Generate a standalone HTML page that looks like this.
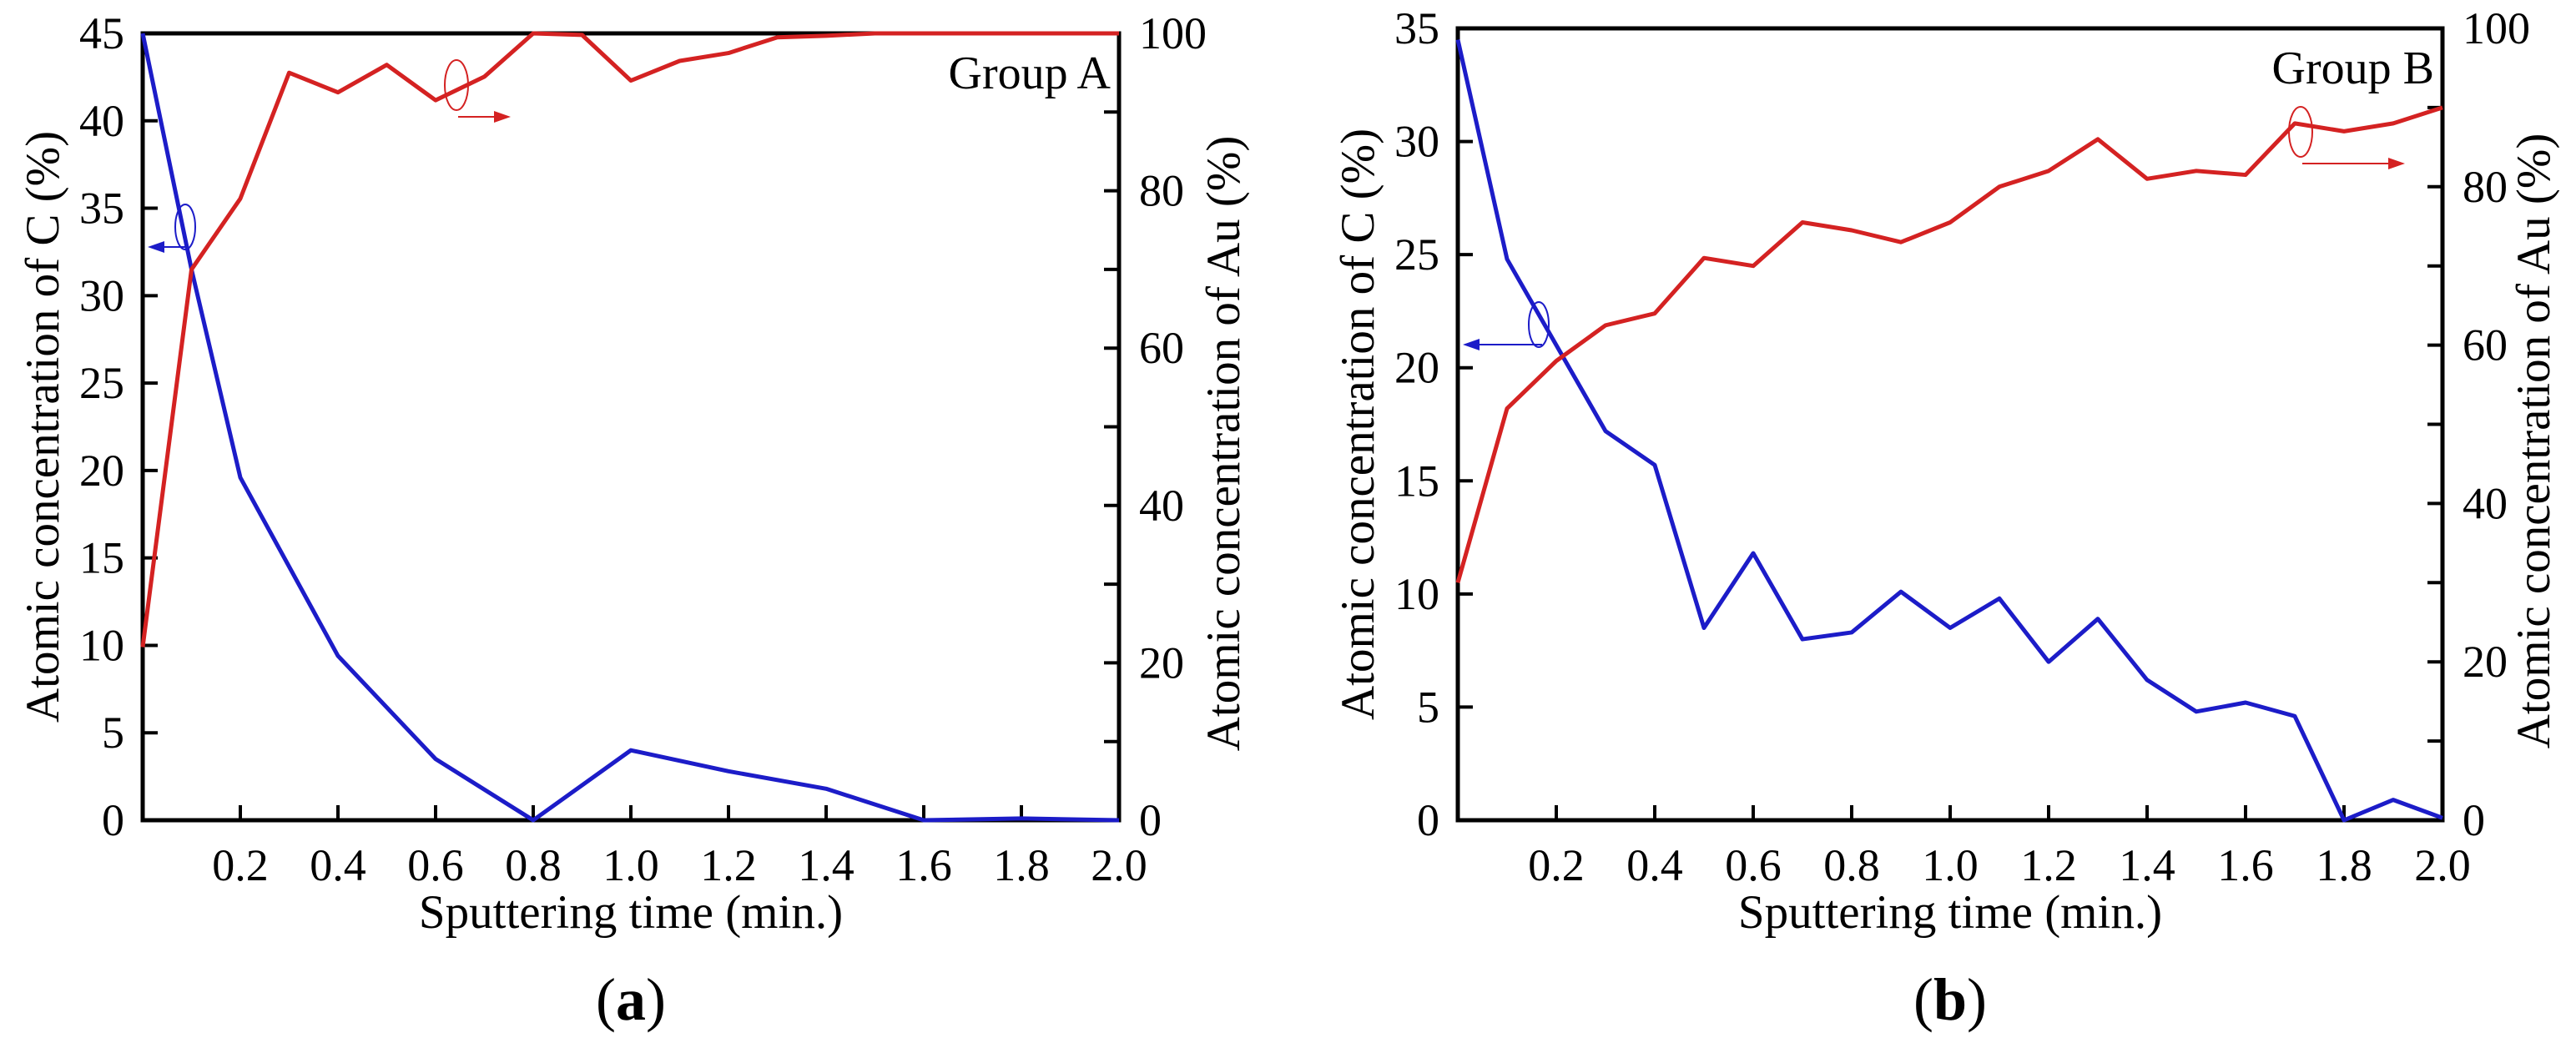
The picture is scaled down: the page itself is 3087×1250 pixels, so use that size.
<!DOCTYPE html>
<html><head><meta charset="utf-8"><style>
body{margin:0;background:#fff;}
svg{display:block;font-family:"Liberation Serif",serif;}
</style></head><body>
<svg id="fig" width="3087" height="1250" viewBox="0 0 3087 1250"></svg>
<script>
const xTicks=[0.2,0.4,0.6,0.8,1.0,1.2,1.4,1.6,1.8,2.0];
const timeA=[0,0.1,0.2,0.4,0.6,0.8,1.0,1.2,1.4,1.6,1.8,2.0];
const carbonA=[45,31.5,19.6,9.4,3.5,0,4.0,2.8,1.8,0,0.1,0];
const timeAu=[0,0.1,0.2,0.3,0.4,0.5,0.6,0.7,0.8,0.9,1.0,1.1,1.2,1.3,1.4,1.5,1.6,1.7,1.8,1.9,2.0];
const goldA=[22,70,79,95,92.5,96,91.5,94.5,100,99.8,94,96.5,97.5,99.5,99.7,100,100,100,100,100,100];
const carbonB=[34.5,24.8,21,17.2,15.7,8.5,11.8,8.0,8.3,10.1,8.5,9.8,7.0,8.9,6.2,4.8,5.2,4.6,0,0.9,0.1];
const goldB=[30,52,58,62.5,64,71,70,75.5,74.5,73,75.5,80,82,86,81,82,81.5,88,87,88,90];
const leftTicksA=[0,5,10,15,20,25,30,35,40,45];
const leftTicksB=[0,5,10,15,20,25,30,35];
const rightTicks=[0,20,40,60,80,100];

const NS="http://www.w3.org/2000/svg";
const svg=document.getElementById('fig');
function mk(tag,attrs,parent){const e=document.createElementNS(NS,tag);for(const k in attrs)e.setAttribute(k,attrs[k]);(parent||svg).appendChild(e);return e;}

function panel(cfg){
  const g=mk('g',{});
  
  
  const {x0,x1,y0,y1,cMax}=cfg;
  const X=v=>x0+(v/2)*(x1-x0);
  const YL=v=>y1-(v/cMax)*(y1-y0);
  const YR=v=>y1-(v/100)*(y1-y0);
  const fr=mk('rect',{x:x0,y:y0,width:x1-x0,height:y1-y0,fill:'none',stroke:'#000','stroke-width':5},g);
  
  
  xTicks.forEach(t=>{
    mk('line',{x1:X(t),x2:X(t),y1:y1,y2:y1-18,stroke:'#000','stroke-width':4},g);
    const tx=mk('text',{x:X(t),y:y1+72,'font-size':54,'text-anchor':'middle'},g);
    tx.textContent=t.toFixed(1);
    
    
  });
  cfg.leftTicks.forEach(t=>{
    mk('line',{x1:x0,x2:x0+18,y1:YL(t),y2:YL(t),stroke:'#000','stroke-width':4},g);
    const tx=mk('text',{x:x0-22,y:YL(t)+18,'font-size':54,'text-anchor':'end'},g);
    tx.textContent=t;
    
    
  });
  for(let t=0;t<=100;t+=10){
    mk('line',{x1:x1,x2:x1-18,y1:YR(t),y2:YR(t),stroke:'#000','stroke-width':4},g);
  }
  rightTicks.forEach(t=>{
    const tx=mk('text',{x:x1+24,y:YR(t)+18,'font-size':54,'text-anchor':'start'},g);
    tx.textContent=t;
    
    
  });
  const xt=mk('text',{x:(x0+x1)/2,y:1112,'font-size':57,'text-anchor':'middle'},g);
  xt.textContent='Sputtering time (min.)';
  
  
  const lt=mk('text',{x:0,y:0,'font-size':57,'text-anchor':'middle',transform:`translate(${cfg.ltx},${(y0+y1)/2}) rotate(-90)`},g);
  lt.textContent='Atomic concentration of C (%)';
  
  
  const rt=mk('text',{x:0,y:0,'font-size':57,'text-anchor':'middle',transform:`translate(${cfg.rtx},${(y0+y1)/2+20}) rotate(-90)`},g);
  rt.textContent='Atomic concentration of Au (%)';
  
  
  const gl=mk('text',{x:x1-10,y:y0+66,'font-size':56,'text-anchor':'end'},g);
  gl.textContent=cfg.group;
  
  
  const pl=mk('text',{x:(x0+x1)/2,y:1222,'font-size':72,'text-anchor':'middle'},g);
  pl.innerHTML='(<tspan font-weight="bold">'+cfg.letter+'</tspan>)';
  
  
  const cp=mk('polyline',{points:cfg.cx.map((t,i)=>X(t)+','+YL(cfg.cy[i])).join(' '),fill:'none',stroke:'#1c1cc8','stroke-width':5,'stroke-linejoin':'round'},g);
  
  
  const ap=mk('polyline',{points:timeAu.map((t,i)=>X(t)+','+YR(cfg.au[i])).join(' '),fill:'none',stroke:'#d42222','stroke-width':5,'stroke-linejoin':'round'},g);
  
  
  const a=cfg.ann;
  mk('ellipse',{cx:a.bx,cy:a.by,rx:12,ry:27,fill:'none',stroke:'#1c1cc8','stroke-width':2},g);
  mk('line',{x1:a.bx+4,y1:a.by+24,x2:x0+22,y2:a.by+24,stroke:'#1c1cc8','stroke-width':2},g);
  mk('polygon',{points:`${x0+6},${a.by+24} ${x0+26},${a.by+17} ${x0+26},${a.by+31}`,fill:'#1c1cc8'},g);
  mk('ellipse',{cx:a.rx,cy:a.ry,rx:14,ry:30,fill:'none',stroke:'#d42222','stroke-width':2},g);
  mk('line',{x1:a.rx+2,y1:a.ry+38,x2:a.ax-16,y2:a.ry+38,stroke:'#d42222','stroke-width':2},g);
  mk('polygon',{points:`${a.ax},${a.ry+38} ${a.ax-20},${a.ry+31} ${a.ax-20},${a.ry+45}`,fill:'#d42222'},g);
}
panel({name:'panel-a',x0:171,x1:1341,y0:40,y1:983,cMax:45,leftTicks:leftTicksA,cx:timeA,cy:carbonA,au:goldA,ltx:70,rtx:1485,group:'Group A',letter:'a',
  ann:{bx:222,by:272,rx:547,ry:102,ax:612}});
panel({name:'panel-b',x0:1747,x1:2927,y0:34,y1:983,cMax:35,leftTicks:leftTicksB,cx:timeAu,cy:carbonB,au:goldB,ltx:1646,rtx:3055,group:'Group B',letter:'b',
  ann:{bx:1844,by:389,rx:2757,ry:158,ax:2882}});
</script>
</body></html>
